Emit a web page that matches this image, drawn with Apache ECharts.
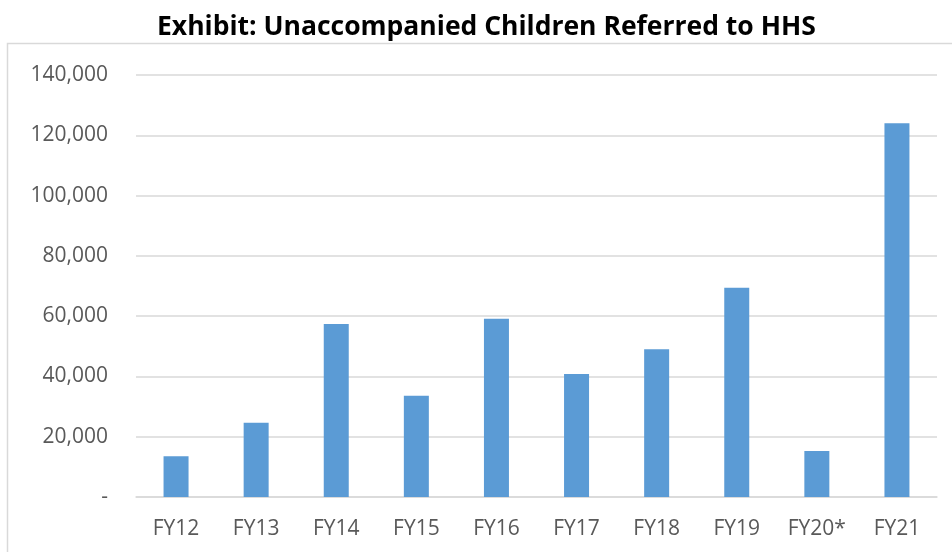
<!DOCTYPE html>
<html><head><meta charset="utf-8">
<script src="https://cdn.jsdelivr.net/npm/echarts@6/dist/echarts.min.js"></script>
<style>html,body{margin:0;padding:0;background:#fff}#c{width:952px;height:552px}</style>
</head><body><div id="c"></div>
<script>
var categories = ['FY12','FY13','FY14','FY15','FY16','FY17','FY18','FY19','FY20*','FY21'];
var referrals = [13500, 24600, 57400, 33600, 59100, 40800, 49000, 69400, 15300, 124000];
var titleText = 'Exhibit: Unaccompanied Children Referred to HHS';

var chart = echarts.init(document.getElementById('c'));
chart.setOption({
  animation: false,
  title: {
    text: titleText, left: 152, top: 9, padding: 5,
    textStyle: { fontFamily: 'Open Sans', fontWeight: 'bold', fontSize: 26.5, color: '#000' }
  },
  graphic: [{
    type: 'rect', shape: { x: 7.5, y: 43.5, width: 960, height: 520 },
    style: { fill: 'none', stroke: '#d9d9d9', lineWidth: 1.5 }, silent: true
  }],
  grid: { left: 136, right: 15, top: 75, bottom: 55 },
  xAxis: {
    type: 'category', data: categories,
    axisLine: { lineStyle: { color: '#d9d9d9', width: 1.5 } },
    axisTick: { show: false },
    axisLabel: { color: '#595959', fontFamily: 'Open Sans', fontSize: 21, margin: 22 }
  },
  yAxis: {
    type: 'value', min: 0, max: 140000, interval: 20000,
    axisLine: { show: false }, axisTick: { show: false },
    splitLine: { lineStyle: { color: '#d9d9d9', width: 1.5 } },
    axisLabel: {
      color: '#595959', fontFamily: 'Open Sans', fontSize: 21, margin: 28,
      formatter: function (v) { return v === 0 ? '-' : v.toLocaleString('en-US'); }
    }
  },
  series: [{
    type: 'bar', data: referrals, barWidth: 25,
    itemStyle: { color: '#5b9bd5' }
  }]
});
</script></body></html>
